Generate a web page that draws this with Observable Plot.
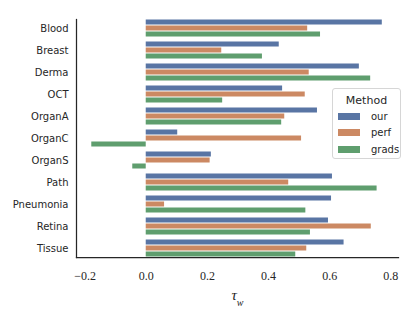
<!DOCTYPE html>
<html><head><meta charset="utf-8">
<script src="https://cdn.jsdelivr.net/npm/d3@7"></script>
<script src="https://cdn.jsdelivr.net/npm/@observablehq/plot@0.6"></script>
<style>
body{margin:0;background:#fff;}
#wrap{position:relative;width:415px;height:311px;background:#fff;}
.legend{position:absolute;left:332px;top:88px;width:69px;height:71px;border:1px solid #d6d6d6;border-radius:3px;background:rgba(255,255,255,0.85);font-family:"DejaVu Sans",sans-serif;color:#262626;box-sizing:border-box;}
.legend .title{text-align:center;font-size:11px;margin-top:4px;height:15px;line-height:15px;}
.legend .item{display:flex;align-items:center;height:16.5px;font-size:10px;}
.legend .sw{width:22px;height:7px;margin-left:5px;margin-right:11px;}
</style></head><body><div id="wrap"></div>
<script>
const categories = ["Blood","Breast","Derma","OCT","OrganA","OrganC","OrganS","Path","Pneumonia","Retina","Tissue"];
const methods = ["our","perf","grads"];
const our   = [0.772,0.435,0.697,0.446,0.560,0.103,0.213,0.609,0.606,0.596,0.647];
const perf  = [0.528,0.247,0.533,0.520,0.453,0.508,0.209,0.466,0.060,0.736,0.525];
const grads = [0.570,0.380,0.734,0.250,0.443,-0.178,-0.044,0.755,0.522,0.537,0.489];
const xTicks = [-0.2,0,0.2,0.4,0.6,0.8];
const xDomain = [-0.228,0.825];
const colors = ["#5975a4","#cc8963","#5f9e6e"];

const series = {our, perf, grads};
const data = categories.flatMap((c,i)=>methods.map(m=>({category:c, method:m, value:series[m][i]})));

const plot = Plot.plot({
  width:415, height:311,
  marginLeft:76, marginRight:17, marginTop:13, marginBottom:48,
  style:{fontFamily:"DejaVu Sans", fontSize:"10px", color:"#262626", background:"#fff", overflow:"visible"},
  x:{domain:xDomain, ticks:xTicks, tickSize:0, tickPadding:14,
     tickFormat:d=>(d<0?"\u2212":"")+Math.abs(d).toFixed(1),
     label:"τw", labelAnchor:"center", labelOffset:42},
  fy:{domain:categories, paddingInner:0.2, paddingOuter:0.1, label:null, axis:"left", tickSize:0, tickPadding:8},
  y:{domain:methods, axis:null, padding:0},
  color:{domain:methods, range:colors},
  marks:[
    Plot.barX(data,{x:"value", y:"method", fy:"category", fill:"method", insetTop:0.5, insetBottom:0.5}),
    Plot.frame({anchor:"left", facet:"super", stroke:"#262626", strokeWidth:1.25}),
    Plot.frame({anchor:"bottom", facet:"super", stroke:"#262626", strokeWidth:1.25})
  ]
});
const wrap = document.getElementById("wrap");
wrap.appendChild(plot);

// serif tick labels
for (const tx of plot.querySelectorAll('g[aria-label="x-axis tick label"] text')) {
  tx.style.fontFamily = '"Liberation Serif", serif';
  tx.style.fontSize = "12px";
}
// x-axis label with subscript w
const lab = plot.querySelector('g[aria-label="x-axis label"] text');
if (lab) {
  lab.style.fontFamily = '"Liberation Serif", serif';
  lab.style.fontStyle = "italic";
  lab.style.fontSize = "15px";
  lab.textContent = "τ";
  const ts = document.createElementNS("http://www.w3.org/2000/svg","tspan");
  ts.setAttribute("baseline-shift","sub");
  ts.setAttribute("font-size","10");
  ts.textContent = "w";
  lab.appendChild(ts);
}

// legend
const color = plot.scale("color");
const leg = document.createElement("div");
leg.className = "legend";
const t = document.createElement("div"); t.className="title"; t.textContent="Method"; leg.appendChild(t);
color.domain.forEach((m,i) => {
  const it = document.createElement("div"); it.className="item";
  const sw = document.createElement("div"); sw.className="sw"; sw.style.background = color.range[i];
  const tx = document.createElement("span"); tx.textContent = m;
  it.appendChild(sw); it.appendChild(tx); leg.appendChild(it);
});
wrap.appendChild(leg);
</script>
</body></html>
